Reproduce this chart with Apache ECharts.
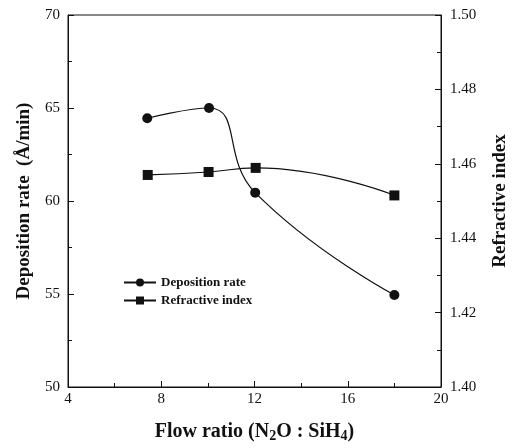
<!DOCTYPE html>
<html>
<head>
<meta charset="utf-8">
<script src="https://cdn.jsdelivr.net/npm/echarts@6/dist/echarts.min.js"></script>
<style>
  html, body { margin: 0; padding: 0; background: #fff; }
  #chart { width: 514px; height: 448px; }
</style>
</head>
<body>
<div id="chart"></div>
<script>
// Flow ratio N2O : SiH4
const flowRatio = [7.4, 10.05, 12.03, 18.0];
const flowRatioRi = [7.42, 10.03, 12.05, 18.0];
// Deposition rate (Å/min)
const depositionRate = [64.45, 65.0, 60.45, 54.95];
// Refractive index
const refractiveIndex = [1.4570, 1.4578, 1.4589, 1.4515];

const serif = '"Liberation Serif", "DejaVu Serif", serif';
const ink = '#111';

const chart = echarts.init(document.getElementById('chart'), null, { renderer: 'canvas' });

const tickStyle = { show: true, inside: true, length: 6, lineStyle: { color: ink, width: 1 } };
const minorStyle = { show: true, splitNumber: 2, length: 4, lineStyle: { color: ink, width: 1 } };

chart.setOption({
  animation: false,
  backgroundColor: '#fff',
  grid: {
    left: 68, right: 73, top: 15, bottom: 61,
    outerBoundsMode: 'none',
    containLabel: false,
    show: true, borderColor: ink, borderWidth: 1, backgroundColor: 'transparent'
  },
  legend: {
    orient: 'vertical',
    left: 118, top: 271,
    itemWidth: 32, itemHeight: 10, itemGap: 5,
    textStyle: { fontFamily: serif, fontWeight: 'bold', fontSize: 13, color: ink },
    data: ['Deposition rate', 'Refractive index']
  },
  xAxis: {
    type: 'value', min: 4, max: 20, interval: 4,
    axisLine: { show: true, lineStyle: { color: ink, width: 1 } },
    axisTick: tickStyle,
    minorTick: minorStyle,
    splitLine: { show: false },
    axisLabel: { fontFamily: serif, fontSize: 15, color: ink, margin: 5 },
    name: 'Flow ratio (N{sub|2}O : SiH{sub|4})',
    nameLocation: 'middle', nameGap: 33,
    nameTextStyle: {
      fontFamily: serif, fontWeight: 'bold', fontSize: 20, color: ink,
      rich: {
        sub: { fontFamily: serif, fontWeight: 'bold', fontSize: 14, color: ink, padding: [9, 0, 0, 0] }
      }
    }
  },
  yAxis: [
    {
      type: 'value', min: 50, max: 70, interval: 5, position: 'left',
      axisLine: { show: true, lineStyle: { color: ink, width: 1 } },
      axisTick: tickStyle,
      minorTick: minorStyle,
      splitLine: { show: false },
      axisLabel: { fontFamily: serif, fontSize: 15, color: ink, margin: 8 },
      name: 'Deposition rate  (Å/min)',
      nameLocation: 'middle', nameGap: 34, nameRotate: 90,
      nameTextStyle: { fontFamily: serif, fontWeight: 'bold', fontSize: 19, color: ink }
    },
    {
      type: 'value', min: 1.40, max: 1.50, interval: 0.02, position: 'right',
      axisLine: { show: true, lineStyle: { color: ink, width: 1 } },
      axisTick: tickStyle,
      minorTick: minorStyle,
      splitLine: { show: false },
      axisLabel: {
        fontFamily: serif, fontSize: 15, color: ink, margin: 9,
        formatter: v => v.toFixed(2)
      },
      name: 'Refractive index',
      nameLocation: 'middle', nameGap: 50, nameRotate: 90,
      nameTextStyle: { fontFamily: serif, fontWeight: 'bold', fontSize: 19, color: ink }
    }
  ],
  series: [
    {
      name: 'Deposition rate', type: 'line', yAxisIndex: 0,
      data: flowRatio.map((x, i) => [x, depositionRate[i]]),
      smooth: 0.5,
      symbol: 'circle', symbolSize: 10,
      itemStyle: { color: ink },
      lineStyle: { color: ink, width: 1.2 }
    },
    {
      name: 'Refractive index', type: 'line', yAxisIndex: 1,
      data: flowRatioRi.map((x, i) => [x, refractiveIndex[i]]),
      smooth: 0.5,
      symbol: 'rect', symbolSize: 10,
      itemStyle: { color: ink },
      lineStyle: { color: ink, width: 1.2 }
    }
  ]
});
</script>
</body>
</html>
